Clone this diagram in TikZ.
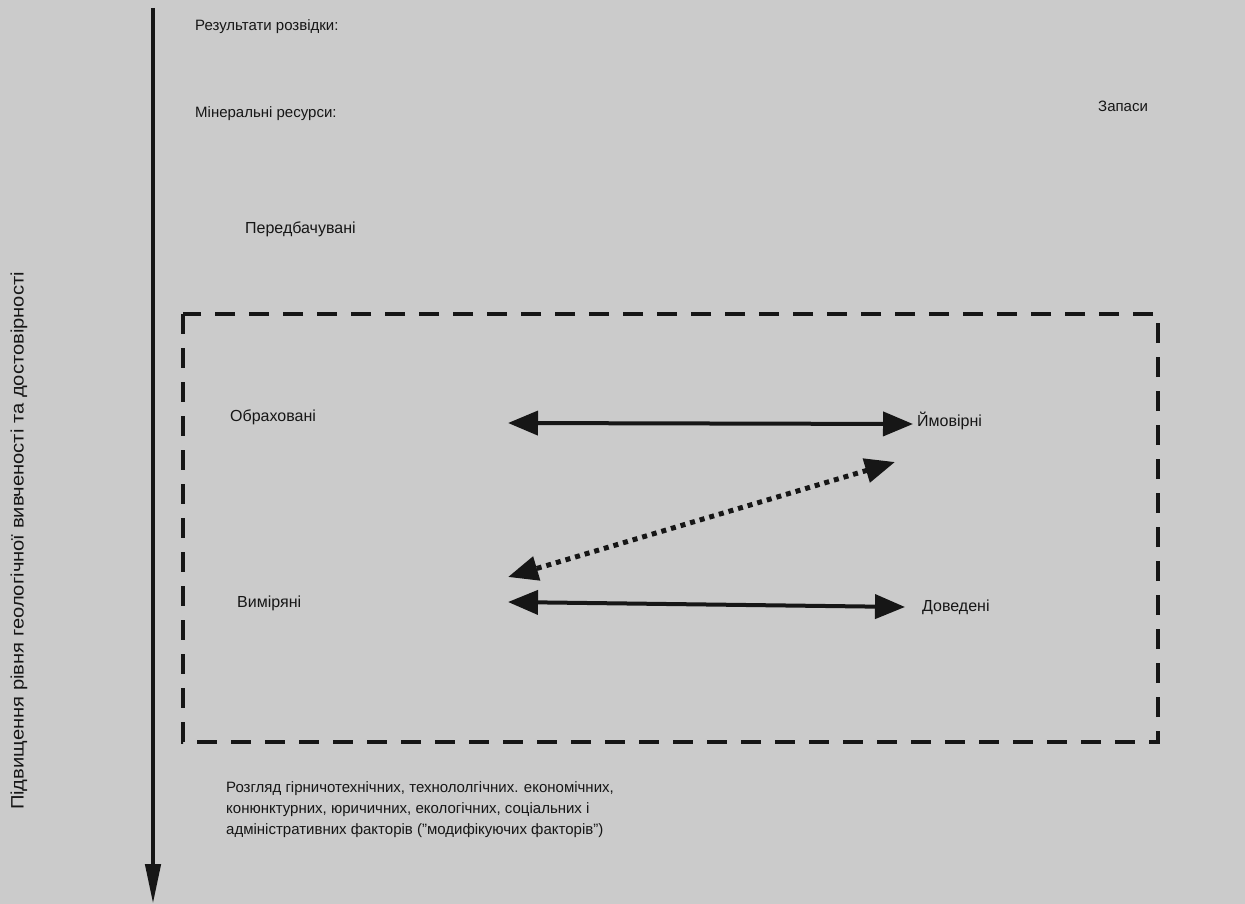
\documentclass[tikz,border=0pt]{standalone}
\usepackage{fontspec}
\setmainfont{Liberation Sans}
\newfontfamily\axisfont[FakeStretch=1.12]{Liberation Sans}
\usetikzlibrary{arrows.meta}
\definecolor{paper}{RGB}{203,203,203}
\definecolor{ink}{RGB}{22,22,22}
\begin{document}
\begin{tikzpicture}[x=1pt,y=-1pt,
  lbl/.style={font=\fontsize{16}{18}\selectfont, text=ink, anchor=west, inner sep=0pt},
  toplbl/.style={lbl, font=\fontsize{15}{17}\selectfont},
  duo/.style={line width=4pt, draw=ink, {Triangle[length=30pt,width=24pt]}-{Triangle[length=30pt,width=24pt]}},
  dotduo/.style={line width=5pt, draw=ink, dash pattern=on 5pt off 5pt, {Triangle[length=30pt,width=24pt]}-{Triangle[length=30pt,width=24pt]}},
  frame/.style={line width=3.5pt, draw=ink, dash pattern=on 20pt off 14pt},
  axis/.style={line width=4.5pt, draw=ink, -{Triangle[length=40pt,width=15pt]}}]
\fill[paper] (0,0) rectangle (1245,904);
\useasboundingbox (0,0) rectangle (1245,904);
% axis
\coordinate (axtop) at (153,8);
\coordinate (axbot) at (153,904);
\draw[axis] (axtop) -- (axbot);
\node[font=\axisfont\fontsize{18}{20}\selectfont, text=ink, rotate=90, inner sep=0pt] (axlbl) at (19,541) {Підвищення рівня геологічної вивченості та достовірності};
% labels
\node[toplbl] (res) at (195,27) {Результати розвідки:};
\node[toplbl] (min) at (195,114) {Мінеральні ресурси:};
\node[lbl] (pred) at (245,229) {Передбачувані};
\node[toplbl] (zap) at (1098,106) {Запаси};
\node[lbl] (obr) at (230,417) {Обраховані};
\node[lbl] (vym) at (237,603) {Виміряні};
\node[lbl] (ymov) at (917,421) {Ймовірні};
\node[lbl] (dov) at (922,607) {Доведені};
% frame
\coordinate (f1) at (183,314);
\coordinate (f2) at (1158,742);
\draw[frame] (f1) rectangle (f2);
% arrows
\coordinate (a1) at (508,423);
\coordinate (a2) at (913,424);
\coordinate (d1) at (895,462);
\coordinate (d2) at (508,577);
\coordinate (b1) at (508,602);
\coordinate (b2) at (905,607);
\draw[duo] (a1) -- (a2);
\draw[dotduo] (d1) -- (d2);
\draw[duo] (b1) -- (b2);
% bottom text
\node[lbl, anchor=north west, align=left, font=\fontsize{15}{21}\selectfont] (mod) at (226,781)
{Розгляд гірничотехнічних, технололгічних. економічних,\\
конюнктурних, юричичних, екологічних, соціальних і\\
адміністративних факторів ("модифікуючих факторів")};
\end{tikzpicture}
\end{document}
